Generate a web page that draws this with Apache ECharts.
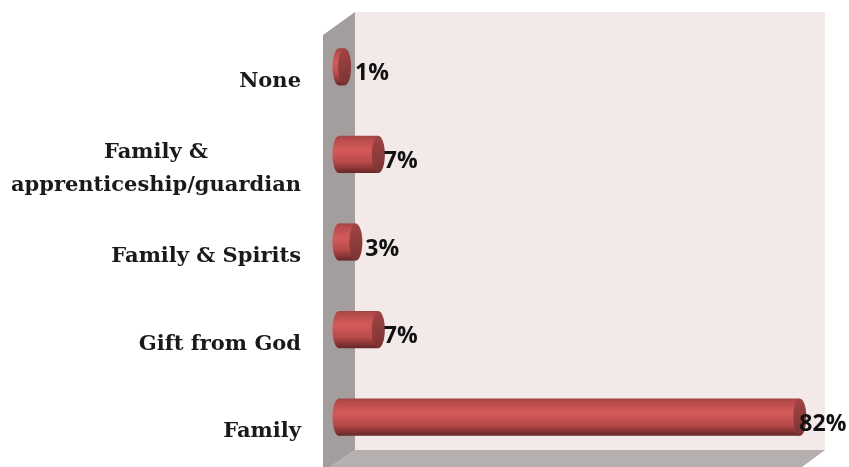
<!DOCTYPE html>
<html>
<head>
<meta charset="utf-8">
<style>html,body{margin:0;padding:0;background:#fff}#chart{width:849px;height:467px}</style>
<script src="https://cdn.jsdelivr.net/npm/echarts@6/dist/echarts.min.js"></script>
</head>
<body>
<div id="chart"></div>
<script>
// Sources of healing knowledge, share of respondents (top to bottom)
const categories = ['None', 'Family &\napprenticeship/guardian', 'Family & Spirits', 'Gift from God', 'Family'];
const shares = [1, 7, 3, 7, 82];

// Small per-bar shifts that keep the value text clear of the end caps
const labelShift = [4, -1, 3, -1, -7];

const CAP_RX = 6.5;

function renderCylinder(params, api) {
  const v = api.value(0);
  const start = api.coord([0, api.value(1)]);
  const end = api.coord([v, api.value(1)]);
  const h = api.size([0, 1])[1] * 0.425;
  const y = start[1] - h / 2;
  const bodyFill = new echarts.graphic.LinearGradient(0, 0, 0, 1, [
    { offset: 0, color: '#a24444' },
    { offset: 0.1, color: '#b84c4c' },
    { offset: 0.38, color: '#d65a5a' },
    { offset: 0.7, color: '#b94a4a' },
    { offset: 0.92, color: '#7c3030' },
    { offset: 1, color: '#652828' }
  ]);
  const capFill = new echarts.graphic.LinearGradient(0, 0, 1, 1, [
    { offset: 0, color: '#a34545' },
    { offset: 1, color: '#7a3232' }
  ]);
  return {
    type: 'group',
    children: [
      { type: 'ellipse', shape: { cx: start[0], cy: start[1], rx: CAP_RX, ry: h / 2 }, style: { fill: bodyFill } },
      { type: 'rect', shape: { x: start[0], y: y, width: end[0] - start[0], height: h }, style: { fill: bodyFill } },
      { type: 'ellipse', shape: { cx: end[0], cy: end[1], rx: CAP_RX, ry: h / 2 }, style: { fill: capFill } },
      {
        type: 'text', z2: 5,
        style: {
          x: end[0] + CAP_RX + labelShift[params.dataIndex],
          y: end[1] + 7,
          text: v + '%',
          fill: '#111',
          font: 'bold 23px "Open Sans", sans-serif',
          align: 'left',
          verticalAlign: 'middle'
        }
      }
    ]
  };
}

const chart = echarts.init(document.getElementById('chart'), null, { renderer: 'canvas' });
chart.setOption({
  animation: false,
  backgroundColor: '#fff',
  grid: { left: 339, top: 23, width: 477.7, height: 438 },
  xAxis: { type: 'value', min: 0, max: 85, show: false },
  yAxis: {
    type: 'category',
    inverse: true,
    data: categories,
    axisLine: { show: false },
    axisTick: { show: false },
    axisLabel: {
      margin: 38,
      padding: [29, 0, 0, 0],
      formatter: function (name) {
        return name.split('\n').map(function (l) { return '{c|' + l + '}'; }).join('\n');
      },
      rich: {
        c: {
          fontFamily: 'DejaVu Serif',
          fontWeight: 'bold',
          fontSize: 21,
          lineHeight: 33,
          color: '#1a1a1a',
          align: 'center'
        }
      }
    }
  },
  // Chart box: back wall, side wall and floor
  graphic: [
    { type: 'polygon', z: -1, shape: { points: [[355, 12], [825, 12], [825, 450], [355, 450]] }, style: { fill: '#f4e9e9' } },
    { type: 'polygon', z: -1, shape: { points: [[355, 450], [825, 450], [802, 467], [330, 467]] }, style: { fill: '#b6afaf' } },
    { type: 'polygon', z: -1, shape: { points: [[323, 35], [355, 12], [355, 450], [330, 467], [323, 467]] }, style: { fill: '#a39d9d' } }
  ],
  series: [{
    type: 'custom',
    renderItem: renderCylinder,
    encode: { x: 0, y: 1 },
    data: shares.map(function (v, i) { return [v, categories[i]]; }),
    clip: false
  }]
});
</script>
</body>
</html>
